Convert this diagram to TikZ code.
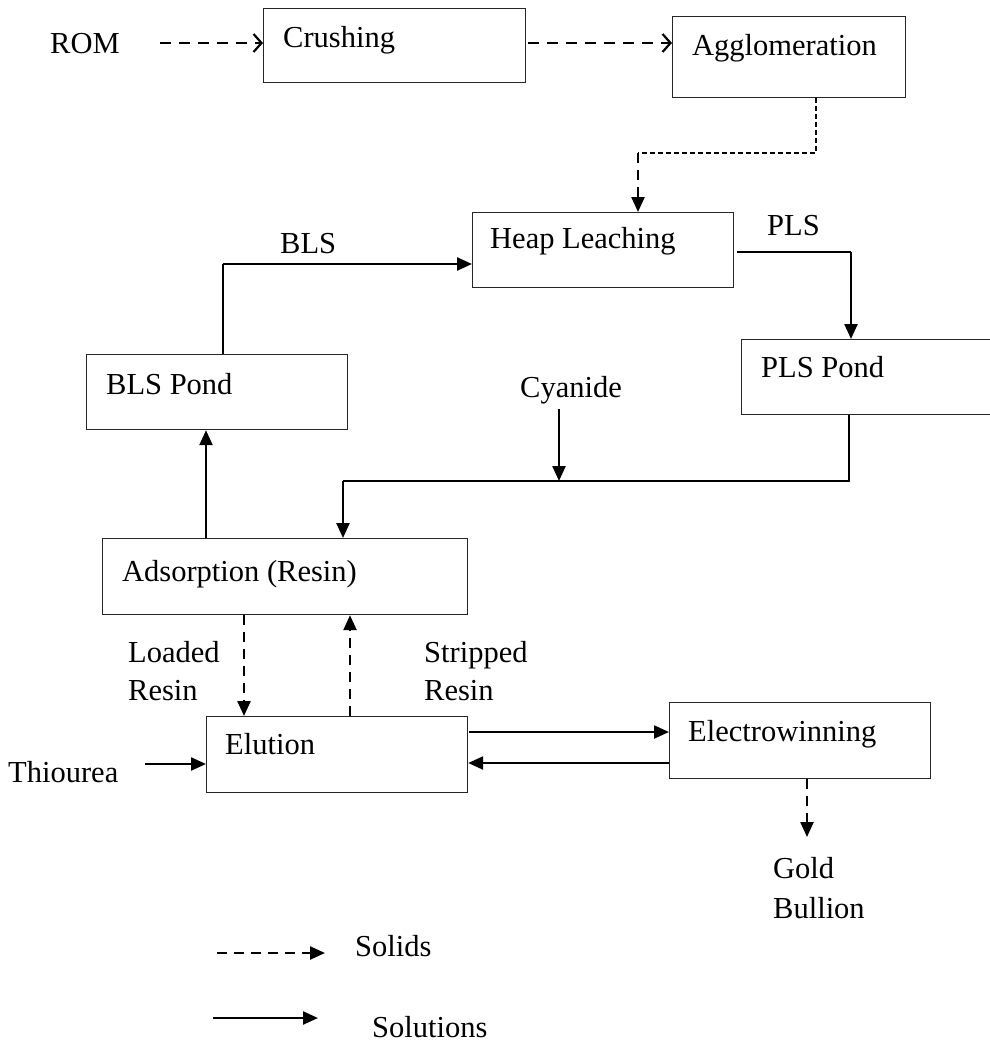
\documentclass[tikz,border=0pt]{standalone}
\usepackage{fontspec}
\setmainfont{Liberation Serif}
\usetikzlibrary{arrows.meta}
\begin{document}
\begin{tikzpicture}[x=1pt,y=-1pt, font=\fontsize{30.5}{36}\selectfont,
  box/.style={draw=black!85, line width=1.2pt, inner sep=0pt, anchor=north west},
  lbl/.style={inner sep=0pt, anchor=base west},
  sol/.style={line width=2.4pt, -{Triangle[length=15pt,width=13pt]}},
  thinline/.style={line width=1.2pt},
  sld/.style={line width=2.4pt, dash pattern=on 10pt off 7pt, -{Triangle[length=15pt,width=13pt]}},
  sldopen/.style={line width=2.2pt, dash pattern=on 11pt off 8pt, -{Straight Barb[length=8pt,width=18pt,line width=2.2pt]}},
  fine/.style={line width=1.2pt, dash pattern=on 5pt off 3pt}]
\useasboundingbox (0,0) rectangle (990,1042);

% boxes
\node[box, minimum width=262pt, minimum height=74pt] (crush) at (263,8) {};
\node[box, minimum width=233pt, minimum height=81pt] (agglo) at (672,16) {};
\node[box, minimum width=261pt, minimum height=75pt] (heap) at (472,212) {};
\node[box, minimum width=261pt, minimum height=75pt] (blsp) at (86,354) {};
\node[box, minimum width=262pt, minimum height=75pt] (plsp) at (741,339) {};
\node[box, minimum width=365pt, minimum height=76pt] (ads) at (102,538) {};
\node[box, minimum width=261pt, minimum height=76pt] (elu) at (206,716) {};
\node[box, minimum width=261pt, minimum height=76pt] (elw) at (669,702) {};

% texts
\node[lbl] (rom) at (50,53) {ROM};
\node[lbl] (crushT) at (283,47) {Crushing};
\node[lbl] (aggloT) at (692,55) {Agglomeration};
\node[lbl] (heapT) at (490,248) {Heap Leaching};
\node[lbl] (plsT) at (767,235) {PLS};
\node[lbl] (blsT) at (280,253) {BLS};
\node[lbl] (blspT) at (106,394) {BLS Pond};
\node[lbl] (plspT) at (761,377) {PLS Pond};
\node[lbl] (cyan) at (520,397) {Cyanide};
\node[lbl] (adsT) at (122,581) {Adsorption (Resin)};
\node[lbl] (load1) at (128,662) {Loaded};
\node[lbl] (load2) at (128,700) {Resin};
\node[lbl] (strip1) at (424,662) {Stripped};
\node[lbl] (strip2) at (424,700) {Resin};
\node[lbl] (eluT) at (225,754) {Elution};
\node[lbl] (thio) at (8,782) {Thiourea};
\node[lbl] (elwT) at (688,741) {Electrowinning};
\node[lbl] (gold1) at (773,878) {Gold};
\node[lbl] (gold2) at (773,918) {Bullion};
\node[lbl] (solids) at (355,956) {Solids};
\node[lbl] (solutions) at (372,1037) {Solutions};

% waypoints
\coordinate (r1) at (160,43);
\coordinate (c1) at (528,43);
\coordinate (k1) at (816,153);
\coordinate (k2) at (638,153);
\coordinate (b1) at (223,264);
\coordinate (p1) at (737,252);
\coordinate (p2) at (851,252);
\coordinate (q1) at (849,481);
\coordinate (q2) at (343,481);
\coordinate (cy) at (559,409);
\coordinate (a1) at (206,0);
\coordinate (lr) at (244,0);
\coordinate (sr) at (350,0);
\coordinate (t1) at (145,764);
\coordinate (e1) at (469,732);
\coordinate (e2) at (0,763);
\coordinate (g1) at (807,837);
\coordinate (l1) at (217,953);
\coordinate (l2) at (325,953);
\coordinate (l3) at (213,1018);
\coordinate (l4) at (318,1018);

% connectors
\draw[sldopen] (r1) -- (crush.west |- r1);
\draw[sldopen] (c1) -- (agglo.west |- c1);
\draw[fine] (agglo.south -| k1) -- (k1) -- (k2);
\draw[sld] (k2) -- (heap.north -| k2);
\draw[thinline] (blsp.north -| b1) -- (b1);
\draw[sol] (b1) -- (heap.west |- b1);
\draw[thinline] (p1) -- (p2);
\draw[sol] (p2) -- (plsp.north -| p2);
\draw[thinline] (plsp.south -| q1) -- (q1) -- (q2);
\draw[sol] (q2) -- (ads.north -| q2);
\draw[sol] (cy) -- (cy |- q1);
\draw[sol] (ads.north -| a1) -- (blsp.south -| a1);
\draw[sld] (ads.south -| lr) -- (elu.north -| lr);
\draw[sld] (elu.north -| sr) -- (ads.south -| sr);
\draw[sol] (t1) -- (elu.west |- t1);
\draw[sol] (e1) -- (elw.west |- e1);
\draw[sol] (elw.west |- e2) -- (elu.east |- e2);
\draw[sld] (elw.south -| g1) -- (g1);
\draw[sld] (l1) -- (l2);
\draw[sol] (l3) -- (l4);
\end{tikzpicture}
\end{document}
